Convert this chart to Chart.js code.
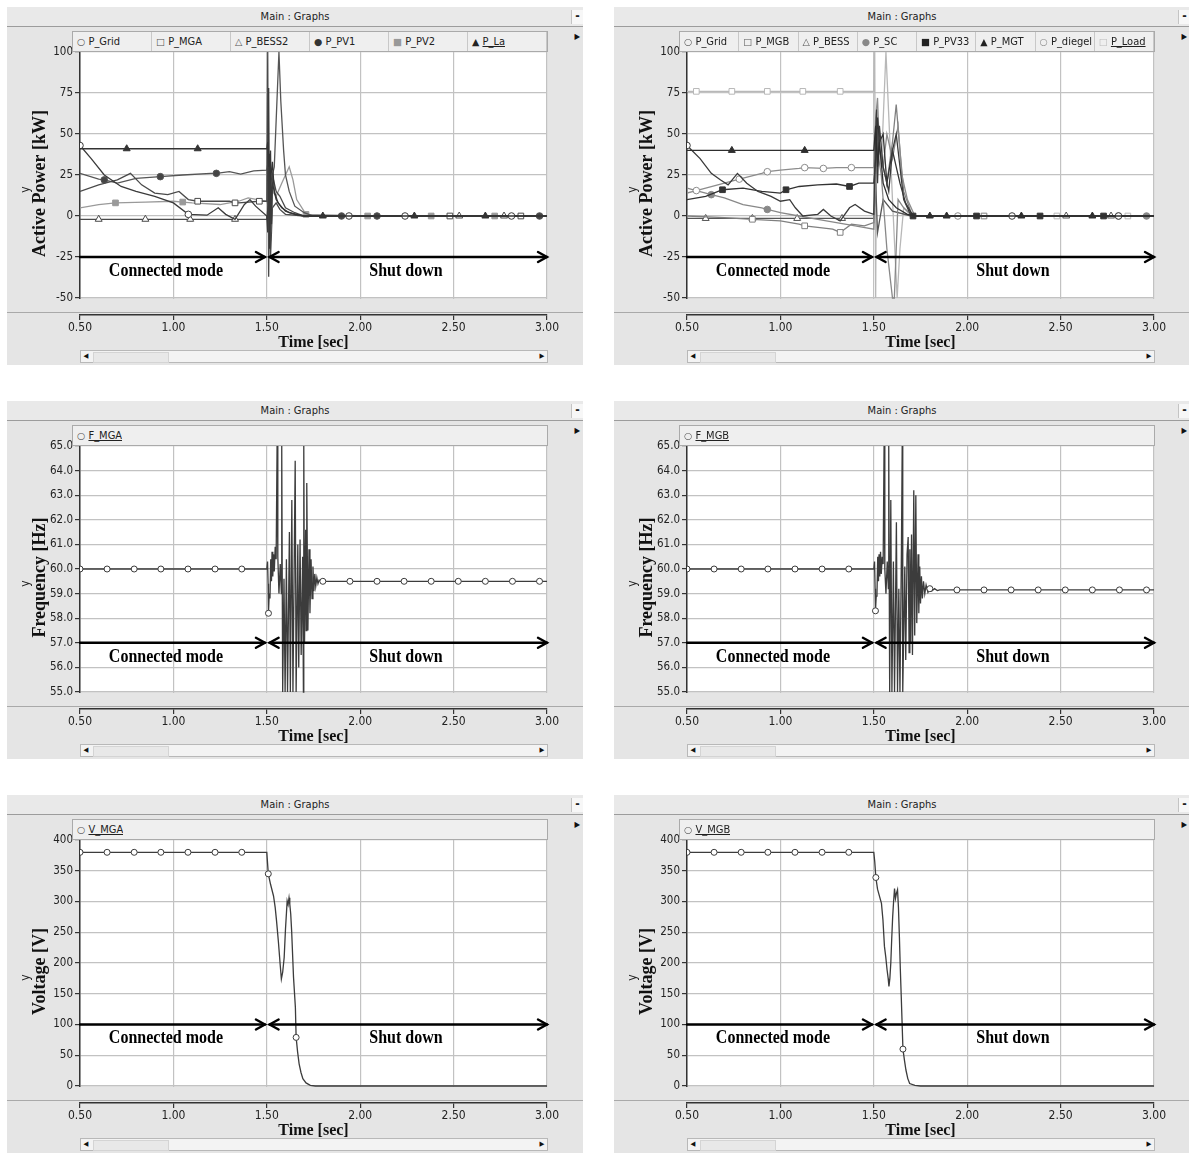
<!DOCTYPE html>
<html>
<head>
<meta charset="utf-8">
<script src="https://cdn.jsdelivr.net/npm/chart.js@4.4.1/dist/chart.umd.min.js"></script>
<style>
body{margin:0;background:#fff;width:1189px;height:1153px;overflow:hidden;position:relative;
  font-family:"Liberation Sans Narrow","Arial Narrow","DejaVu Sans Condensed",sans-serif;}
.win{position:absolute;width:576px;height:358px;background:#e5e5e5;}
.tbar{position:absolute;left:0;top:0;width:576px;height:19px;background:#e9e9e9;border-bottom:1px solid #9c9c9c;
  text-align:center;font-size:11px;line-height:19px;color:#222;}
.minb{position:absolute;right:0;top:3px;width:11px;height:14px;background:#f7f7f7;border-left:1px solid #c4c4c4;
  font-size:12px;line-height:13px;text-align:center;font-weight:bold;}
.tri{position:absolute;right:3px;top:25px;font-size:8px;color:#111;}
.win canvas{position:absolute;left:0;top:20px;}
.leg{position:absolute;left:65px;top:24px;width:476px;height:21px;background:#efefef;border:1px solid #aaa;
  box-sizing:border-box;display:flex;z-index:2;}
.leg .c{flex:1;border-right:1px solid #c8c8c8;font-size:11px;line-height:19px;padding-left:4px;white-space:nowrap;overflow:hidden;color:#222;}
.leg.one .c{flex:none;border-right:none;}
.leg .s{font-family:"DejaVu Sans",sans-serif;font-size:9.5px;}
.leg .u{text-decoration:underline;}
.scroll{position:absolute;left:73px;top:343px;width:468px;height:13px;background:#f3f3f3;border:1px solid #b8b8b8;
  box-sizing:border-box;z-index:2;}
.scroll .sl,.scroll .sr{position:absolute;top:0;width:10px;height:11px;font-size:7px;line-height:11px;text-align:center;color:#111;}
.scroll .sl{left:0;}
.scroll .sr{right:0;}
.scroll .th{position:absolute;left:12px;top:1px;width:74px;height:9px;background:#e8e8e8;border:1px solid #d4d4d4;}
</style>
</head>
<body>
<script>
// ---------- axes ----------
const timeMin = 0.5, timeMax = 3.0;
const powerTicks = [-50, -25, 0, 25, 50, 75, 100];
const freqTicks = [55, 56, 57, 58, 59, 60, 61, 62, 63, 64, 65];
const voltTicks = [0, 50, 100, 150, 200, 250, 300, 350, 400];
const modeLabels = ['Connected mode', 'Shut down'];
const modeLabelAt = [0.96, 2.245];
const connSpan = [0.5, 1.49];
const shutSpan = [1.515, 3.0];

// ---------- MGA active power ----------
const aGridT = [0.5,0.56,0.63,0.72,0.8,0.9,1.0,1.08,1.18,1.24,1.28,1.33,1.38,1.41,1.44,1.5,1.505,1.51,1.515,1.52,1.525,1.53,1.55,1.58,1.62,1.7,1.94,2.24,2.81,3.0];
const aGridV = [43,35,25,18,15,12,8,1,0.5,5,1,-2,7,10,6,0,-10,78,-20,40,-5,20,10,5,2,0,0,0,0,0];
const aGridM = [0.5,1.08,1.94,2.24,2.81];
const aMgaT = [0.5,0.6,0.7,0.77,0.83,0.9,0.97,1.03,1.08,1.13,1.3,1.33,1.35,1.46,1.5,1.505,1.51,1.515,1.52,1.53,1.55,1.57,1.6,1.65,1.7,2.48,2.86,3.0];
const aMgaV = [15,19,22,26,19,14,13,15,10,9,9,8,8,9,9,100,-37,30,-15,25,15,12,5,2,0,0,0,0];
const aMgaM = [1.13,1.33,1.46,2.48,2.86];
const aBessT = [0.5,0.6,0.85,1.09,1.33,1.5,1.51,1.52,1.53,1.55,1.57,1.6,1.7,2.53,2.77,3.0];
const aBessV = [-2,-2,-2,-2,-2,-2,10,-25,5,8,4,1,0,0,0,0];
const aBessM = [0.6,0.85,1.09,1.33,2.53,2.77];
const aPv1T = [0.5,0.6,0.63,0.7,0.8,0.93,1.05,1.2,1.23,1.3,1.36,1.43,1.5,1.51,1.52,1.54,1.565,1.575,1.59,1.6,1.62,1.65,1.7,1.75,1.9,2.09,2.96,3.0];
const aPv1V = [26,22.5,22,20,23,24,25,26,26,27,25.5,27.5,28,35,20,30,100,70,40,25,15,6,2,0,0,0,0,0];
const aPv1M = [0.63,0.93,1.23,1.9,2.09,2.96];
const aPv2T = [0.5,0.6,0.69,0.85,1.0,1.05,1.1,1.25,1.35,1.4,1.5,1.51,1.52,1.53,1.55,1.58,1.6,1.62,1.64,1.66,1.71,2.04,2.38,2.72,3.0];
const aPv2V = [5,7,8,8.5,9,8.5,8,7,9,11,9,5,-10,15,12,20,25,30,22,10,1,0,0,0,0];
const aPv2M = [0.69,1.05,1.71,2.04,2.38,2.72];
const aLaT = [0.5,0.75,1.13,1.5,1.505,1.51,1.515,1.52,1.53,1.54,1.56,1.6,1.65,1.7,1.8,2.29,2.67,3.0];
const aLaV = [41,41,41,41,45,30,38,22,33,15,8,3,1,0,0,0,0,0];
const aLaM = [0.75,1.13,1.8,2.29,2.67];

// ---------- MGB active power ----------
const bGridT = [0.5,0.57,0.63,0.68,0.72,0.77,0.82,0.88,0.95,1.0,1.05,1.08,1.12,1.2,1.23,1.27,1.32,1.37,1.4,1.45,1.5,1.51,1.515,1.52,1.53,1.55,1.58,1.6,1.62,1.64,1.66,1.7,2.24,2.81,3.0];
const bGridV = [43,35,26,22,19,26,20,15,12,9,10,5,0,1,4,0,-3,5,7,3,1,50,65,20,55,30,15,40,50,30,10,0,0,0,0];
const bGridM = [0.5,2.24,2.81];
const bMgbT = [0.5,0.7,0.85,1.0,1.1,1.13,1.2,1.28,1.32,1.38,1.45,1.5,1.51,1.52,1.54,1.57,1.6,1.62,1.64,1.66,1.7,1.72,2.09,3.0];
const bMgbV = [0,-1,-2,-3,-5,-6,-7,-8,-10,-5,-6,-4,30,50,35,20,45,68,40,15,2,0,0,0];
const bMgbM = [0.85,1.13,1.32,2.09];
const bBessT = [0.5,0.6,0.85,1.09,1.33,1.5,1.51,1.52,1.55,1.6,1.7,2.53,2.77,3.0];
const bBessV = [-1.5,-1.5,-1.5,-1.5,-1.5,-1.5,20,-10,10,3,0,0,0,0];
const bBessM = [0.6,0.85,1.09,1.33,2.53,2.77];
const bScT = [0.5,0.6,0.63,0.7,0.8,0.9,0.93,1.0,1.1,1.2,1.3,1.4,1.5,1.51,1.52,1.54,1.57,1.6,1.61,1.63,1.66,1.71,2.96,3.0];
const bScV = [17,14,13,11,7,5,4,2,0,-2,-4,-6,-8,20,40,25,-20,-50,-50,10,5,0,0,0];
const bScM = [0.63,0.93,2.96];
const bPv33T = [0.5,0.6,0.69,0.8,0.9,1.0,1.03,1.1,1.2,1.3,1.37,1.42,1.5,1.51,1.52,1.53,1.55,1.57,1.6,1.62,1.64,1.67,1.71,2.05,2.39,2.73,3.0];
const bPv33V = [10,12,16,17,15,14,16,18,19,19.5,18,20,20,35,60,45,50,20,40,30,20,8,0,0,0,0,0];
const bPv33M = [0.69,1.03,1.37,1.71,2.05,2.39,2.73];
const bMgtT = [0.5,0.74,1.13,1.5,1.51,1.52,1.53,1.55,1.58,1.62,1.68,1.72,1.8,1.89,2.29,2.67,3.0];
const bMgtV = [40,40,40,40,55,30,45,20,10,5,1,0,0,0,0,0,0];
const bMgtM = [0.74,1.13,1.8,1.89,2.29,2.67];
const bDiegT = [0.5,0.55,0.6,0.7,0.78,0.9,0.93,1.0,1.1,1.13,1.23,1.3,1.38,1.5,1.51,1.52,1.53,1.55,1.57,1.6,1.63,1.65,1.68,1.72,1.95,2.24,2.81,2.96,3.0];
const bDiegV = [14,15.5,17,20,22.5,26,27,28,29,29.5,29,29.5,29.5,29.5,60,72,40,30,50,35,55,25,10,0,0,0,0,0,0];
const bDiegM = [0.55,0.78,0.93,1.13,1.23,1.38,1.95,2.81];
const bLoadT = [0.5,0.55,0.74,0.93,1.12,1.32,1.5,1.505,1.51,1.515,1.52,1.54,1.565,1.6,1.625,1.64,1.66,1.7,2.48,2.86,3.0];
const bLoadV = [76,76,76,76,76,76,76,100,-50,60,45,30,100,10,-50,-20,5,0,0,0,0];
const bLoadM = [0.55,0.74,0.93,1.12,1.32,2.48,2.86];

// ---------- frequency ----------
const fAT = [0.5,0.645,0.79,0.933,1.078,1.223,1.366,1.5,
  1.504,1.507,1.509,1.513,1.517,1.521,1.525,1.528,1.532,1.536,
  1.54,1.545,1.55,1.555,1.559,1.565,1.572,1.578,1.58,1.585,
  1.592,1.598,1.605,1.611,1.621,1.626,1.634,1.64,1.652,1.657,
  1.666,1.671,1.678,1.684,1.692,1.696,1.698,1.702,1.708,1.711,
  1.714,1.72,1.726,1.731,1.737,1.742,1.747,1.752,1.757,1.762,
  1.768,1.774,1.78,1.79,
  1.8,1.945,2.09,2.235,2.38,2.525,2.67,2.815,2.96,3.0];
const fAV = [60,60,60,60,60,60,60,60,
  60.3,59.4,58.2,59.0,58.8,60.4,59.5,60.7,59.7,60.6,
  59.9,60.9,60.4,65,60.5,59.0,60.2,59.0,65,55,
  59.6,55,60.4,55,61.5,55,62.8,55,64.4,55,
  61.0,56.0,61.2,56.5,60.5,55,65,57.0,61.6,57.5,
  63.5,57.5,60.8,58.2,60.4,58.8,60.1,59.1,59.8,59.3,
  59.65,59.4,59.55,59.48,
  59.5,59.5,59.5,59.5,59.5,59.5,59.5,59.5,59.5,59.5];
const fAM = [0.5,0.645,0.79,0.933,1.078,1.223,1.366,1.509,1.8,1.945,2.09,2.235,2.38,2.525,2.67,2.815,2.96];
const fBT = [0.5,0.645,0.79,0.933,1.078,1.223,1.366,1.5,
  1.504,1.507,1.509,1.513,1.517,1.521,1.525,1.528,1.532,1.536,
  1.54,1.545,1.55,1.555,1.559,1.565,1.572,1.578,1.58,1.585,
  1.591,1.597,1.605,1.611,1.621,1.627,1.634,1.64,1.648,1.652,
  1.655,1.666,1.671,1.678,1.684,1.689,1.693,1.697,1.702,1.707,
  1.714,1.719,1.725,1.73,1.737,1.741,1.746,1.75,1.755,1.76,
  1.766,1.773,1.78,1.79,1.8,1.81,1.825,1.84,1.853,
  1.945,2.09,2.235,2.38,2.525,2.67,2.815,2.96,3.0];
const fBV = [60,60,60,60,60,60,60,60,
  60.3,59.2,58.3,58.9,59.0,60.5,59.5,60.6,59.7,60.7,
  59.8,60.5,60.2,65,60.0,59.0,60.3,59.2,65,55,
  62.8,55,60.3,55,61.9,55,59.2,55,60.8,65,
  55,60.1,56.3,60.6,61.3,56.6,60.8,57.0,61.4,56.5,
  63.2,57.3,63.0,57.8,60.6,58.2,60.1,58.6,59.7,58.8,
  59.5,59.0,59.35,59.05,59.2,59.1,59.2,59.12,59.15,
  59.15,59.15,59.15,59.15,59.15,59.15,59.15,59.15,59.15];
const fBM = [0.5,0.645,0.79,0.933,1.078,1.223,1.366,1.509,1.8,1.945,2.09,2.235,2.38,2.525,2.67,2.815,2.96];

// ---------- voltage ----------
const vAT = [0.5,0.645,0.79,0.933,1.078,1.223,1.366,1.5,1.502,1.508,1.52,1.536,1.545,1.552,1.562,1.572,1.578,1.585,1.593,1.6,
  1.609,1.614,1.619,1.623,1.628,1.633,1.643,1.653,1.657,1.665,1.673,1.683,1.693,1.71,1.733,1.76,3.0];
const vAV = [380,380,380,380,380,380,380,380,371,345,328,309,290,269,235,196,174,185,209,255,
  301,295,306,296,280,252,177,128,79,55,36,22,12,5,1,0,0];
const vAM = [0.5,0.645,0.79,0.933,1.078,1.223,1.366,1.508,1.657];
const vBT = [0.5,0.645,0.79,0.933,1.078,1.223,1.366,1.5,1.505,1.511,1.52,1.531,1.541,1.549,1.557,1.564,1.571,1.577,1.581,1.586,
  1.591,1.596,1.601,1.606,1.611,1.616,1.621,1.627,1.632,1.637,1.642,1.647,1.656,1.664,1.672,1.682,1.692,1.72,1.75,3.0];
const vBV = [380,380,380,380,380,380,380,380,365,339,320,308,297,270,227,210,189,175,162,175,
  200,240,275,300,321,305,313,319,290,243,190,145,60,42,26,12,4,1,0,0];
const vBM = [0.5,0.645,0.79,0.933,1.078,1.223,1.366,1.511,1.656];

// ---------- drawing ----------
const PANEL_BG = '#e5e5e5';
const narrow = '"Liberation Sans Narrow","Arial Narrow","DejaVu Sans Condensed",sans-serif';
const serif = '"Liberation Serif","Times New Roman",serif';

function series(t, v, mk, style, color, fill, r) {
  return {
    data: t.map((x, i) => ({x: x, y: v[i]})),
    borderColor: color,
    borderWidth: 1.3,
    tension: 0,
    pointStyle: style,
    pointRadius: c => (c.raw && mk.includes(c.raw.x)) ? (r || 3.3) : 0,
    pointBackgroundColor: fill,
    pointBorderColor: color,
    pointBorderWidth: 1
  };
}

function head(ctx, x, y, dir) {
  ctx.beginPath();
  ctx.moveTo(x - dir * 9, y - 5);
  ctx.lineTo(x, y);
  ctx.lineTo(x - dir * 9, y + 5);
  ctx.stroke();
}

const psPlot = {
  id: 'psPlot',
  beforeDraw(chart, args, o) {
    const {ctx, chartArea: a} = chart;
    const yb = chart.scales.y.getPixelForValue(o.lo);
    ctx.save();
    ctx.fillStyle = '#ffffff';
    ctx.fillRect(a.left, a.top, a.right - a.left, yb - a.top);
    ctx.restore();
  },
  beforeDatasetsDraw(chart, args, o) {
    const {ctx, chartArea: a} = chart;
    const yb = chart.scales.y.getPixelForValue(o.lo);
    ctx.save();
    ctx.fillStyle = PANEL_BG;
    ctx.fillRect(a.left - 2, yb + 1, a.right - a.left + 4, a.bottom - yb - 2);
    ctx.strokeStyle = '#a9a9a9';
    ctx.lineWidth = 1;
    ctx.beginPath();
    ctx.moveTo(0, a.bottom - 2.5);
    ctx.lineTo(chart.width, a.bottom - 2.5);
    ctx.stroke();
    ctx.restore();
  },
  afterDraw(chart, args, o) {
    const {ctx, chartArea: a} = chart;
    const xs = chart.scales.x, ys = chart.scales.y;
    const ya = ys.getPixelForValue(o.arrowY);
    ctx.save();
    ctx.strokeStyle = '#000';
    ctx.lineWidth = 2.4;
    ctx.lineCap = 'round';
    ctx.beginPath();
    ctx.moveTo(xs.getPixelForValue(connSpan[0]), ya);
    ctx.lineTo(xs.getPixelForValue(connSpan[1]), ya);
    ctx.moveTo(xs.getPixelForValue(shutSpan[0]), ya);
    ctx.lineTo(xs.getPixelForValue(shutSpan[1]), ya);
    ctx.stroke();
    head(ctx, xs.getPixelForValue(connSpan[1]), ya, 1);
    head(ctx, xs.getPixelForValue(shutSpan[0]), ya, -1);
    head(ctx, xs.getPixelForValue(shutSpan[1]), ya, 1);
    ctx.fillStyle = '#000';
    ctx.font = 'bold 16px ' + serif;
    ctx.textAlign = 'center';
    ctx.textBaseline = 'middle';
    modeLabels.forEach((s, i) => {
      ctx.save();
      ctx.translate(xs.getPixelForValue(modeLabelAt[i]), ya + 14);
      ctx.scale(1, 1.2);
      ctx.fillText(s, 0, 0);
      ctx.restore();
    });
    // small "y" beside the axis title
    ctx.font = '12px ' + narrow;
    ctx.fillStyle = '#222';
    ctx.translate(19, (a.top + a.bottom) / 2 + 6);
    ctx.rotate(-Math.PI / 2);
    ctx.fillText('y', 0, 0);
    ctx.restore();
  }
};

function makePanel(cfg) {
  const w = document.createElement('div');
  w.className = 'win';
  w.style.left = cfg.left + 'px';
  w.style.top = cfg.top + 'px';
  const n = cfg.legend.length;
  w.innerHTML =
    '<div class="tbar">Main : Graphs<div class="minb">-</div></div>' +
    '<div class="tri">&#9654;</div>' +
    '<div class="leg' + (n === 1 ? ' one' : '') + '">' +
    cfg.legend.map((it, i) => '<span class="c"><span class="s" style="color:' + it[2] + '">' + it[0] +
      '</span> <span class="' + (i === n - 1 ? 'u' : '') + '">' + it[1] + '</span></span>').join('') +
    '</div>' +
    '<canvas width="576" height="326"></canvas>' +
    '<div class="scroll"><div class="sl">&#9664;</div><div class="th"></div><div class="sr">&#9654;</div></div>';
  document.body.appendChild(w);
  const cv = w.querySelector('canvas');
  const lo = cfg.ticks[0], hi = cfg.ticks[cfg.ticks.length - 1];
  const ext = 17 / 246 * (hi - lo);
  new Chart(cv, {
    type: 'line',
    data: {datasets: cfg.series},
    options: {
      responsive: false,
      animation: false,
      events: [],
      layout: {padding: {left: 0, right: 36, top: 25, bottom: 0}},
      plugins: {legend: {display: false}, tooltip: {enabled: false},
        psPlot: {lo: lo, arrowY: cfg.arrowY}},
      scales: {
        x: {
          type: 'linear', min: timeMin, max: timeMax,
          afterFit: s => { s.height = 38; },
          ticks: {stepSize: 0.5, callback: v => v.toFixed(2), color: '#222', padding: 1, maxRotation: 0,
            font: {family: narrow, size: 12}},
          grid: {color: '#c2c2c2', lineWidth: 1.2, tickLength: 5, tickColor: '#333'},
          border: {color: '#333', width: 1.5},
          title: {display: true, text: 'Time [sec]', color: '#111', padding: {top: 0, bottom: 2},
            font: {family: serif, size: 16, weight: 'bold', lineHeight: 1}}
        },
        y: {
          type: 'linear', min: lo - ext, max: hi,
          afterFit: s => { s.width = 73; },
          afterBuildTicks: s => { s.ticks = cfg.ticks.map(v => ({value: v})); },
          ticks: {callback: cfg.fmt, color: '#222', padding: 2, font: {family: narrow, size: 11.5}},
          grid: {color: '#c2c2c2', lineWidth: 1.2, tickLength: 5, tickColor: '#333'},
          border: {color: '#333', width: 1.5},
          title: {display: true, text: cfg.yTitle, color: '#111', padding: {top: 24, bottom: 0},
            font: {family: serif, size: 18, weight: 'bold', lineHeight: 1}}
        }
      }
    },
    plugins: [psPlot]
  });
}

const fmtInt = v => String(v);
const fmtOne = v => v.toFixed(1);

makePanel({
  left: 7, top: 7, ticks: powerTicks, fmt: fmtInt, yTitle: 'Active Power [kW]', arrowY: -25,
  legend: [['○', 'P_Grid', '#555'], ['□', 'P_MGA', '#555'], ['△', 'P_BESS2', '#555'],
    ['●', 'P_PV1', '#333'], ['■', 'P_PV2', '#999'], ['▲', 'P_La', '#222']],
  series: [
    series(aLaT, aLaV, aLaM, 'triangle', '#333', '#333', 4),
    series(aGridT, aGridV, aGridM, 'circle', '#3a3a3a', '#fff'),
    series(aMgaT, aMgaV, aMgaM, 'rect', '#4a4a4a', '#fff', 4),
    series(aPv1T, aPv1V, aPv1M, 'circle', '#555', '#444'),
    series(aPv2T, aPv2V, aPv2M, 'rect', '#9a9a9a', '#9a9a9a', 4),
    series(aBessT, aBessV, aBessM, 'triangle', '#4a4a4a', '#fff', 4)
  ]
});

makePanel({
  left: 614, top: 7, ticks: powerTicks, fmt: fmtInt, yTitle: 'Active Power [kW]', arrowY: -25,
  legend: [['○', 'P_Grid', '#555'], ['□', 'P_MGB', '#555'], ['△', 'P_BESS', '#555'], ['●', 'P_SC', '#888'],
    ['■', 'P_PV33', '#222'], ['▲', 'P_MGT', '#222'], ['○', 'P_diegel', '#888'], ['□', 'P_Load', '#bbb']],
  series: [
    series(bMgtT, bMgtV, bMgtM, 'triangle', '#2e2e2e', '#2e2e2e', 4),
    series(bGridT, bGridV, bGridM, 'circle', '#3a3a3a', '#fff'),
    series(bPv33T, bPv33V, bPv33M, 'rect', '#333', '#333', 4),
    series(bDiegT, bDiegV, bDiegM, 'circle', '#8c8c8c', '#fff'),
    series(bScT, bScV, bScM, 'circle', '#888', '#888'),
    series(bMgbT, bMgbV, bMgbM, 'rect', '#808080', '#fff', 4),
    series(bBessT, bBessV, bBessM, 'triangle', '#555', '#fff', 4),
    series(bLoadT, bLoadV, bLoadM, 'rect', '#b8b8b8', '#fff', 4)
  ]
});

makePanel({
  left: 7, top: 401, ticks: freqTicks, fmt: fmtOne, yTitle: 'Frequency [Hz]', arrowY: 57,
  legend: [['○', 'F_MGA', '#555']],
  series: [series(fAT, fAV, fAM, 'circle', '#3c3c3c', '#fff', 3)]
});

makePanel({
  left: 614, top: 401, ticks: freqTicks, fmt: fmtOne, yTitle: 'Frequency [Hz]', arrowY: 57,
  legend: [['○', 'F_MGB', '#555']],
  series: [series(fBT, fBV, fBM, 'circle', '#3c3c3c', '#fff', 3)]
});

makePanel({
  left: 7, top: 795, ticks: voltTicks, fmt: fmtInt, yTitle: 'Voltage [V]', arrowY: 100,
  legend: [['○', 'V_MGA', '#555']],
  series: [series(vAT, vAV, vAM, 'circle', '#3c3c3c', '#fff', 3)]
});

makePanel({
  left: 614, top: 795, ticks: voltTicks, fmt: fmtInt, yTitle: 'Voltage [V]', arrowY: 100,
  legend: [['○', 'V_MGB', '#555']],
  series: [series(vBT, vBV, vBM, 'circle', '#3c3c3c', '#fff', 3)]
});
</script>
</body>
</html>
